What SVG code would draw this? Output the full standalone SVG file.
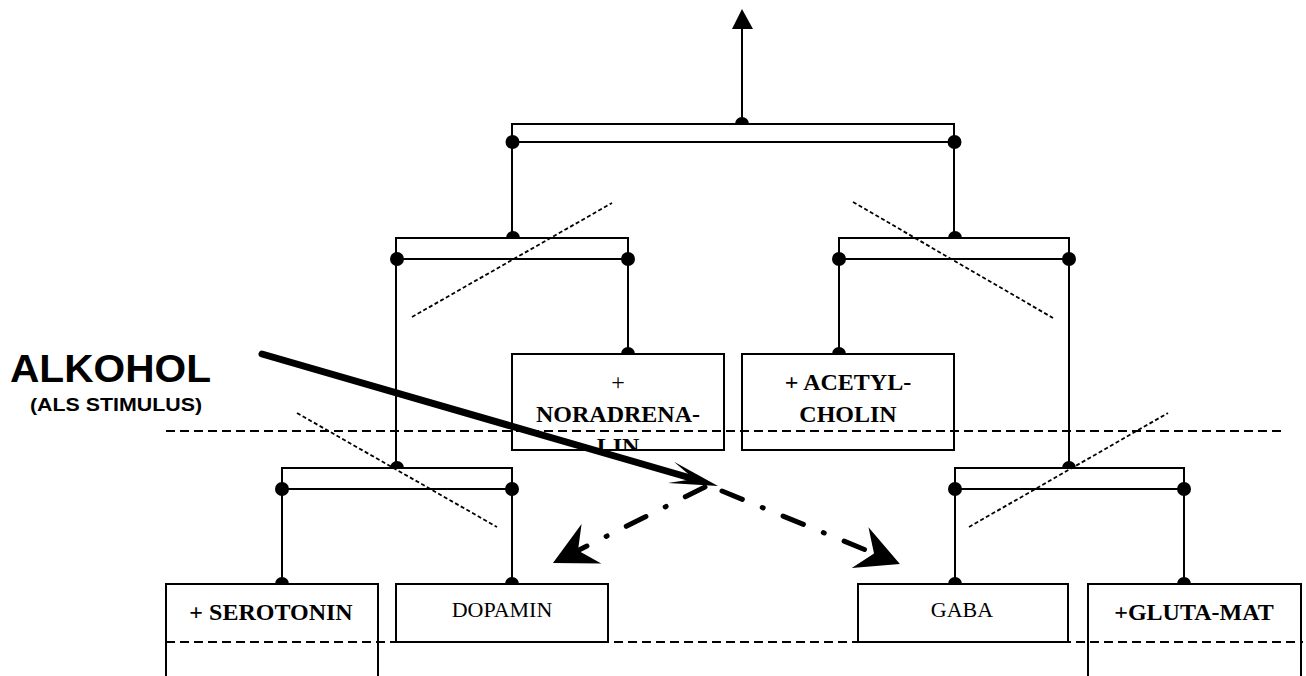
<svg xmlns="http://www.w3.org/2000/svg" width="1306" height="676" viewBox="0 0 1306 676">
<style>
.ln{stroke:#000;stroke-width:2;fill:none}
.box{stroke:#000;stroke-width:2;fill:#fff}
.dot{fill:#000}
.dash{stroke:#000;stroke-width:2;stroke-dasharray:9 5;fill:none}
.dotted{stroke:#000;stroke-width:1.8;stroke-dasharray:4 2.5;fill:none}
.dd{stroke:#000;stroke-width:5;stroke-linecap:round;stroke-dasharray:22 21.5 1 21.5;fill:none}
.tb{font-family:"Liberation Serif","Times New Roman",serif;font-weight:bold;font-size:24px;fill:#000}
.tr{font-family:"Liberation Serif","Times New Roman",serif;font-size:22px;fill:#000}
.sans{font-family:"Liberation Sans",Arial,sans-serif;font-weight:bold;fill:#000}
</style>
<defs>
<marker id="headMain" markerUnits="userSpaceOnUse" orient="auto" refX="24" refY="11" markerWidth="60" markerHeight="30" overflow="visible">
<path d="M0,0 L49,11 L0,22 L24,11 Z" fill="#000"/>
</marker>
<marker id="headDD" markerUnits="userSpaceOnUse" orient="auto" refX="15" refY="22" markerWidth="50" markerHeight="50" overflow="visible">
<path d="M0,0 L43,22 L0,44 L15,22 Z" fill="#000"/>
</marker>
<clipPath id="clipNor"><rect x="512" y="354" width="212" height="96"/></clipPath>
</defs>

<g id="connectors">
<line class="ln" x1="742" y1="124" x2="742" y2="28"/>
<polygon points="742,9 732,29 753,29" fill="#000"/>
<rect class="ln" x="512" y="124" width="442" height="18"/>
<line class="ln" x1="512" y1="142" x2="512" y2="238"/>
<line class="ln" x1="954" y1="142" x2="954" y2="238"/>
<rect class="ln" x="396" y="238" width="232" height="21"/>
<line class="ln" x1="396" y1="259" x2="396" y2="468"/>
<line class="ln" x1="628" y1="259" x2="628" y2="354"/>
<rect class="ln" x="839" y="238" width="230" height="21"/>
<line class="ln" x1="839" y1="259" x2="839" y2="354"/>
<line class="ln" x1="1069" y1="259" x2="1069" y2="468"/>
<rect class="ln" x="282" y="468" width="230" height="21"/>
<line class="ln" x1="282" y1="489" x2="282" y2="584"/>
<line class="ln" x1="512" y1="489" x2="512" y2="584"/>
<rect class="ln" x="955" y="468" width="229" height="21"/>
<line class="ln" x1="955" y1="489" x2="955" y2="584"/>
<line class="ln" x1="1184" y1="489" x2="1184" y2="584"/>
<g class="dot">
<path d="M735,124 A7,7 0 0 1 749,124 Z"/>
<circle cx="512.5" cy="142" r="7"/>
<circle cx="954.5" cy="142" r="7"/>
<path d="M506,238 A7,7 0 0 1 520,238 Z"/>
<circle cx="397" cy="259" r="7"/>
<circle cx="628" cy="259" r="7"/>
<path d="M948,238 A7,7 0 0 1 962,238 Z"/>
<circle cx="839" cy="259" r="7"/>
<circle cx="1069" cy="259" r="7"/>
<path d="M390,468 A7,7 0 0 1 404,468 Z"/>
<circle cx="282" cy="489" r="7"/>
<circle cx="512" cy="489" r="7"/>
<path d="M1062,468 A7,7 0 0 1 1076,468 Z"/>
<circle cx="955" cy="489" r="7"/>
<circle cx="1184" cy="489" r="7"/>
<path d="M621,354 A7,7 0 0 1 635,354 Z"/>
<path d="M832,354 A7,7 0 0 1 846,354 Z"/>
<path d="M275,584 A7,7 0 0 1 289,584 Z"/>
<path d="M505,584 A7,7 0 0 1 519,584 Z"/>
<path d="M948,584 A7,7 0 0 1 962,584 Z"/>
<path d="M1177,584 A7,7 0 0 1 1191,584 Z"/>
</g>
<line class="dotted" x1="412" y1="317" x2="612" y2="203"/>
<line class="dotted" x1="853" y1="202" x2="1053" y2="318"/>
<line class="dotted" x1="297" y1="413" x2="497" y2="527"/>
<line class="dotted" x1="969" y1="527" x2="1168" y2="413"/>
</g>

<g id="node-noradrenalin">
<rect class="box" x="512" y="354" width="212" height="96"/>
<g clip-path="url(#clipNor)">
<text class="tr" x="618" y="390" text-anchor="middle" style="font-size:24px">+</text>
<text class="tb" x="618" y="422" text-anchor="middle">NORADRENA-</text>
<text class="tb" x="618" y="454" text-anchor="middle">LIN</text>
</g>
</g>
<g id="node-acetylcholin">
<rect class="box" x="742" y="354" width="212" height="96"/>
<text class="tb" x="848" y="390" text-anchor="middle">+ ACETYL-</text>
<text class="tb" x="848" y="422" text-anchor="middle">CHOLIN</text>
</g>
<g id="node-serotonin">
<path class="box" d="M166,680 L166,584 L378,584 L378,680"/>
<text class="tb" x="271" y="620" text-anchor="middle">+ SEROTONIN</text>
</g>
<g id="node-dopamin">
<rect class="box" x="396" y="584" width="212" height="58"/>
<text class="tr" x="502" y="617" text-anchor="middle">DOPAMIN</text>
</g>
<g id="node-gaba">
<rect class="box" x="858" y="584" width="210" height="58"/>
<text class="tr" x="962" y="617" text-anchor="middle">GABA</text>
</g>
<g id="node-glutamat">
<path class="box" d="M1088,680 L1088,584 L1301,584 L1301,680"/>
<text class="tb" x="1194" y="620" text-anchor="middle">+GLUTA-MAT</text>
</g>

<g id="separators">
<line class="dash" x1="166" y1="431" x2="1282" y2="431"/>
<line class="dash" x1="166" y1="642" x2="1303" y2="642"/>
</g>

<g id="node-alkohol">
<text class="sans" x="10" y="382" style="font-size:39px" textLength="201" lengthAdjust="spacingAndGlyphs">ALKOHOL</text>
<text class="sans" x="30" y="411" style="font-size:19px" textLength="172" lengthAdjust="spacingAndGlyphs">(ALS STIMULUS)</text>
</g>

<g id="stimulus-arrows">
<line x1="262" y1="354" x2="694" y2="479" stroke="#000" stroke-width="7" stroke-linecap="round" marker-end="url(#headMain)"/>
<line class="dd" x1="705" y1="487" x2="578" y2="550.5" marker-end="url(#headDD)"/>
<line class="dd" x1="722" y1="491" x2="874" y2="553.4" marker-end="url(#headDD)"/>
</g>
</svg>
